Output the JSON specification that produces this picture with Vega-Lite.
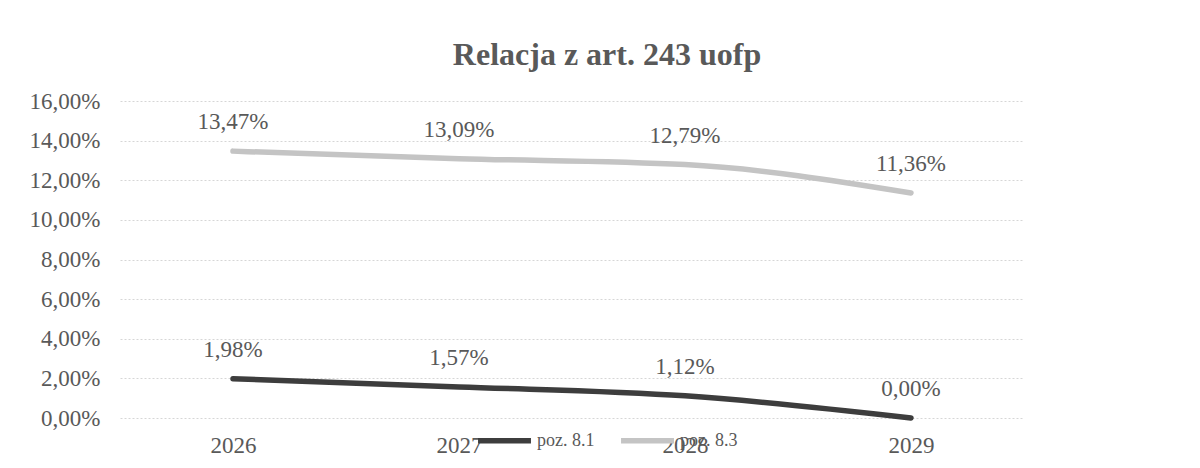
{
  "$schema": "https://vega.github.io/schema/vega-lite/v6.json",
  "autosize": {"type": "none"},
  "width": 904,
  "height": 317,
  "padding": {"left": 120, "top": 101, "right": 176, "bottom": 50},
  "background": "white",
  "title": {
    "text": "Relacja z art. 243 uofp",
    "font": "Liberation Serif",
    "fontSize": 32,
    "fontWeight": "bold",
    "color": "#595959",
    "anchor": "middle",
    "dx": 35,
    "offset": 18
  },
  "data": {
    "values": [
      {"rok": "2026", "seria": "poz. 8.1", "wartosc": 0.0198},
      {"rok": "2027", "seria": "poz. 8.1", "wartosc": 0.0157},
      {"rok": "2028", "seria": "poz. 8.1", "wartosc": 0.0112},
      {"rok": "2029", "seria": "poz. 8.1", "wartosc": 0.0},
      {"rok": "2026", "seria": "poz. 8.3", "wartosc": 0.1347},
      {"rok": "2027", "seria": "poz. 8.3", "wartosc": 0.1309},
      {"rok": "2028", "seria": "poz. 8.3", "wartosc": 0.1279},
      {"rok": "2029", "seria": "poz. 8.3", "wartosc": 0.1136}
    ]
  },
  "encoding": {
    "x": {
      "field": "rok",
      "type": "ordinal",
      "scale": {"type": "point", "padding": 0.5},
      "axis": {
        "title": null,
        "labelAngle": 0,
        "domain": false,
        "ticks": false,
        "labelPadding": 16,
        "labelFontSize": 23,
        "labelColor": "#595959",
        "labelFont": "Liberation Serif",
        "grid": false
      }
    },
    "y": {
      "field": "wartosc",
      "type": "quantitative",
      "scale": {"domain": [0, 0.16], "nice": false},
      "axis": {
        "title": null,
        "format": ".2%",
        "values": [0, 0.02, 0.04, 0.06, 0.08, 0.1, 0.12, 0.14, 0.16],
        "domain": false,
        "ticks": false,
        "labelPadding": 20,
        "labelFontSize": 23,
        "labelColor": "#595959",
        "labelFont": "Liberation Serif",
        "grid": true,
        "gridColor": "#d6d6d6",
        "gridDash": [2, 2],
        "gridWidth": 1
      }
    }
  },
  "layer": [
    {
      "mark": {"type": "line", "interpolate": "monotone", "strokeWidth": 5.5, "strokeCap": "round"},
      "encoding": {
        "color": {
          "field": "seria",
          "type": "nominal",
          "scale": {"domain": ["poz. 8.1", "poz. 8.3"], "range": ["#3d3d3d", "#c4c4c4"]},
          "legend": {
            "title": null,
            "orient": "none",
            "direction": "horizontal",
            "legendX": 355,
            "legendY": 310,
            "symbolType": "stroke",
            "symbolSize": 2800,
            "symbolStrokeWidth": 5.5,
            "labelFont": "Liberation Serif",
            "labelFontSize": 18,
            "labelColor": "#595959",
            "labelOffset": 3,
            "columnPadding": 15
          }
        }
      }
    },
    {
      "mark": {
        "type": "text",
        "baseline": "middle",
        "dy": -29,
        "font": "Liberation Serif",
        "fontSize": 23,
        "color": "#595959"
      },
      "encoding": {
        "text": {"field": "wartosc", "type": "quantitative", "format": ".2%"},
        "detail": {"field": "seria", "type": "nominal"}
      }
    }
  ],
  "config": {
    "locale": {
      "number": {"decimal": ",", "thousands": " ", "grouping": [3], "currency": ["", " zł"]}
    },
    "view": {"stroke": null}
  }
}
